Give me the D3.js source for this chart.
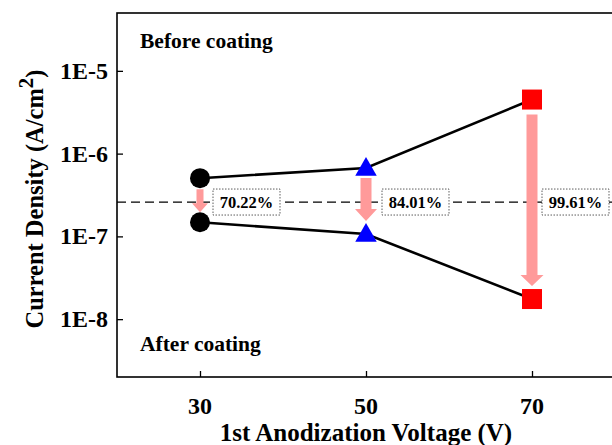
<!DOCTYPE html>
<html>
<head>
<meta charset="utf-8">
<script src="https://cdn.jsdelivr.net/npm/d3@7"></script>
<style>
  body { margin: 0; background: #fff; }
  svg text { font-family: "Liberation Serif", "Times New Roman", serif; font-weight: bold; }
</style>
</head>
<body>
<div id="chart"></div>
<script>
// data
var voltages = [30, 50, 70];
var beforeCoating = [5.05e-7, 6.7e-7, 4.5e-6];
var afterCoating = [1.48e-7, 1.07e-7, 1.75e-8];
var reductions = ['70.22%', '84.01%', '99.61%'];
var refLevel = 2.6e-7;
var xTicks = [30, 50, 70];
var yTicks = [1e-5, 1e-6, 1e-7, 1e-8];
var yTickLabels = ['1E-5', '1E-6', '1E-7', '1E-8'];

// layout
var W = 612, H = 445;
var plotL = 117, plotT = 13, plotR = 615, plotB = 377;
var markerColors = ['#000000', '#0000ff', '#ff0000'];
var markerShapes = ['circle', 'triangle', 'square'];
var arrowColor = '#ff9a9a';
// per-arrow geometry: gap under "before", gap above "after", shaft width, head width, head length
var arrowGeom = [
  {g1: 11, g2: 10, sw: 7, hw: 16, hl: 9},
  {g1: 10, g2: 13, sw: 11, hw: 22, hl: 12},
  {g1: 15, g2: 13, sw: 11, hw: 23, hl: 11}
];
var labelDx = [13, 16, 10];

var svg = d3.select('#chart').append('svg')
  .attr('width', W)
  .attr('height', H);

var x = d3.scaleLinear().domain([20, 80]).range([plotL, plotR]);
var y = d3.scaleLog().domain([2e-9, 5e-5]).range([plotB, plotT]);

// frame
svg.append('rect')
  .attr('x', plotL).attr('y', plotT)
  .attr('width', plotR - plotL).attr('height', plotB - plotT)
  .attr('fill', 'none')
  .attr('stroke', '#000')
  .attr('stroke-width', 1.6);

// axes with inward ticks
var xAxis = svg.append('g')
  .attr('transform', 'translate(0,' + plotB + ')')
  .call(d3.axisTop(x).tickValues(xTicks).tickSize(6).tickFormat(''));
xAxis.select('.domain').remove();
xAxis.selectAll('line').attr('stroke-width', 1.3);

var yAxis = svg.append('g')
  .attr('transform', 'translate(' + plotL + ',0)')
  .call(d3.axisRight(y).tickValues(yTicks).tickSize(6).tickFormat(''));
yAxis.select('.domain').remove();
yAxis.selectAll('line').attr('stroke-width', 1.3);

// tick labels
svg.selectAll('.xlab').data(xTicks).enter().append('text')
  .attr('x', function(d) { return x(d); })
  .attr('y', plotB + 37)
  .attr('text-anchor', 'middle')
  .attr('font-size', 24)
  .text(function(d) { return d; });

svg.selectAll('.ylab').data(yTicks).enter().append('text')
  .attr('x', plotL - 9)
  .attr('y', function(d) { return y(d) + 8; })
  .attr('text-anchor', 'end')
  .attr('font-size', 24)
  .text(function(d, i) { return yTickLabels[i]; });

// axis titles
svg.append('text')
  .attr('x', (plotL + plotR) / 2)
  .attr('y', 441)
  .attr('text-anchor', 'middle')
  .attr('font-size', 25)
  .text('1st Anodization Voltage (V)');

var yt = svg.append('text')
  .attr('transform', 'translate(43,' + 199 + ') rotate(-90)')
  .attr('text-anchor', 'middle')
  .attr('font-size', 24.5);
yt.append('tspan').text('Current Density (A/cm');
yt.append('tspan').attr('dy', -10).attr('font-size', 21).text('2');
yt.append('tspan').attr('dy', 10).text(')');

// annotations
svg.append('text').attr('x', 140).attr('y', 48).attr('font-size', 21.5).text('Before coating');
svg.append('text').attr('x', 140).attr('y', 351).attr('font-size', 21.5).text('After coating');

// dashed reference line
svg.append('line')
  .attr('x1', plotL).attr('x2', W)
  .attr('y1', y(refLevel)).attr('y2', y(refLevel))
  .attr('stroke', '#000')
  .attr('stroke-width', 1.3)
  .attr('stroke-dasharray', '9,5');

// connecting lines
var line = d3.line()
  .x(function(d) { return x(d[0]); })
  .y(function(d) { return y(d[1]); });

[beforeCoating, afterCoating].forEach(function(series) {
  svg.append('path')
    .datum(d3.zip(voltages, series))
    .attr('d', line)
    .attr('fill', 'none')
    .attr('stroke', '#000')
    .attr('stroke-width', 2.6);
});

// arrows
voltages.forEach(function(v, i) {
  var g = arrowGeom[i];
  var cx = x(v);
  var y1 = y(beforeCoating[i]) + g.g1;
  var y2 = y(afterCoating[i]) - g.g2;
  var yh = y2 - g.hl;
  var pts = [
    [cx - g.sw / 2, y1], [cx + g.sw / 2, y1], [cx + g.sw / 2, yh],
    [cx + g.hw / 2, yh], [cx, y2], [cx - g.hw / 2, yh], [cx - g.sw / 2, yh]
  ];
  svg.append('polygon')
    .attr('points', pts.map(function(p) { return p.join(','); }).join(' '))
    .attr('fill', arrowColor);
});

// markers
var symbolFor = {
  circle: d3.symbol().type(d3.symbolCircle).size(Math.PI * 10 * 10),
  triangle: d3.symbol().type(d3.symbolTriangle).size(200),
  square: d3.symbol().type(d3.symbolSquare).size(400)
};
[beforeCoating, afterCoating].forEach(function(series) {
  series.forEach(function(val, i) {
    var shape = markerShapes[i];
    var dy = shape === 'triangle' ? 1.5 : 0;
    svg.append('path')
      .attr('d', symbolFor[shape]())
      .attr('transform', 'translate(' + x(voltages[i]) + ',' + (y(val) + dy) + ')')
      .attr('fill', markerColors[i]);
  });
});

// reduction labels
voltages.forEach(function(v, i) {
  var bx = x(v) + labelDx[i];
  var by = y(refLevel);
  svg.append('rect')
    .attr('x', bx).attr('y', by - 13)
    .attr('width', 67).attr('height', 26)
    .attr('fill', '#fff')
    .attr('stroke', '#333')
    .attr('stroke-width', 0.8)
    .attr('stroke-dasharray', '1.5,1.5');
  svg.append('text')
    .attr('x', bx + 33.5).attr('y', by + 6)
    .attr('text-anchor', 'middle')
    .attr('font-size', 16.5)
    .text(reductions[i]);
});
</script>
</body>
</html>
